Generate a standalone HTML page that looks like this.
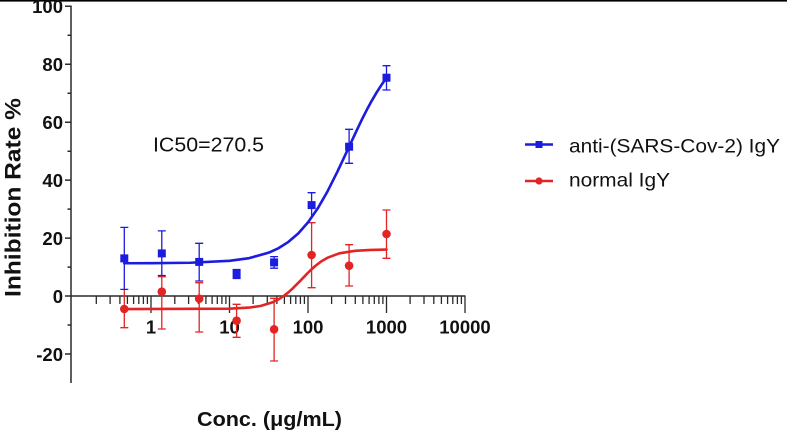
<!DOCTYPE html>
<html><head><meta charset="utf-8"><style>
html,body{margin:0;padding:0;background:#fff;}
svg{display:block;}
text{font-family:"Liberation Sans",Arial,sans-serif;fill:#111;}
</style></head><body>
<svg width="787" height="430" viewBox="0 0 787 430" xmlns="http://www.w3.org/2000/svg">
<rect x="0" y="0" width="787" height="430" fill="#fff"/>
<rect x="0" y="0" width="787" height="1.6" fill="#000"/>
<path fill="none" stroke="#2a2a2a" stroke-width="1.5" d="M71 5.5V383M65 6.3h6M65 64.25h6M65 122.2h6M65 180.15h6M65 238.1h6M65 296.05h6M65 354h6M67.5 35.3h3.5M67.5 93.2h3.5M67.5 151.2h3.5M67.5 209.1h3.5M67.5 267.1h3.5M67.5 325h3.5M71 296.05H465.5"/>
<path fill="none" stroke="#2a2a2a" stroke-width="1.3" d="M151 296v17M229.5 296v17M308 296v17M386.5 296v17M465 296v17M96.3 296v8M110.1 296v8M119.9 296v8M127.4 296v8M133.6 296v8M138.8 296v8M143.4 296v8M147.4 296v8M174.8 296v8M188.6 296v8M198.4 296v8M205.9 296v8M212.1 296v8M217.3 296v8M221.9 296v8M225.9 296v8M253.1 296v8M267.3 296v8M276.9 296v8M284.4 296v8M290.6 296v8M295.8 296v8M300.4 296v8M304.4 296v8M331.6 296v8M345.5 296v8M355.3 296v8M362.9 296v8M369.1 296v8M374.3 296v8M378.9 296v8M382.9 296v8M410.1 296v8M424 296v8M433.8 296v8M441.4 296v8M447.6 296v8M452.8 296v8M457.4 296v8M461.4 296v8"/>
<g font-size="18.5" font-weight="bold" text-anchor="end">
<text x="63" y="13">100</text><text x="63" y="71">80</text><text x="63" y="129">60</text><text x="63" y="187">40</text><text x="63" y="245">20</text><text x="63" y="303">0</text><text x="63" y="361">-20</text>
</g>
<g font-size="18.5" font-weight="bold" text-anchor="middle">
<text x="151" y="333.5">1</text><text x="229.5" y="333.5">10</text><text x="308" y="333.5">100</text><text x="386.5" y="333.5">1000</text><text x="465" y="333.5">10000</text>
</g>
<text transform="translate(20.5,197.5) rotate(-90)" text-anchor="middle" font-size="22.5" font-weight="bold" textLength="199" lengthAdjust="spacingAndGlyphs">Inhibition Rate %</text>
<text x="197" y="426" font-size="20" font-weight="bold" textLength="145" lengthAdjust="spacingAndGlyphs">Conc. (μg/mL)</text>
<text x="153" y="151.7" font-size="20.5" textLength="111" lengthAdjust="spacingAndGlyphs">IC50=270.5</text>
<path fill="none" stroke="#e22424" stroke-width="1.3" d="M124.3 290V327.7M120.3 327.7h8M161.8 276.7V329M157.8 329h8M157.8 276.7h8M199.2 282.7V332M195.2 332h8M195.2 282.7h8M236.6 304.3V337.3M232.6 337.3h8M232.6 304.3h8M274.1 298.3V361M270.1 361h8M270.1 298.3h8M311.6 222.7V287.7M307.6 287.7h8M307.6 222.7h8M349.1 244.7V286M345.1 286h8M345.1 244.7h8M386.5 210V258.3M382.5 258.3h8M382.5 210h8"/>
<polyline fill="none" stroke="#e22424" stroke-width="2.6" stroke-linejoin="round" stroke-linecap="round" points="124.3,309.1 229.5,308.7 249.1,307.6 260.9,305.9 272.7,302.25 278.6,299.3 284.5,295.4 288.4,292.3 292.3,288.8 300.15,280.9 304.1,276.8 308,272.75 311.9,268.96 315.85,265.5 321.7,261.1 327.6,257.7 339.4,253.3 355.1,250.8 370.8,249.9 386.5,249.55"/>
<g fill="#e22424">
<circle cx="124.3" cy="309" r="4.3"/><circle cx="161.8" cy="291.7" r="4.3"/><circle cx="199.2" cy="298.7" r="4.3"/><circle cx="236.6" cy="320.7" r="4.3"/><circle cx="274.1" cy="329.3" r="4.3"/><circle cx="311.6" cy="255" r="4.3"/><circle cx="349.1" cy="265.7" r="4.3"/><circle cx="386.5" cy="234" r="4.3"/>
</g>
<path fill="none" stroke="#1c1ce0" stroke-width="1.3" d="M124.3 227.4V289.4M120.3 227.4h8M120.3 289.4h8M161.8 230.9V275.5M157.8 230.9h8M157.8 275.5h8M199.2 243.3V281M195.2 243.3h8M195.2 281h8M236.6 269.5V278.5M232.6 269.5h8M232.6 278.5h8M274.1 256.6V268.2M270.1 256.6h8M270.1 268.2h8M311.6 192.7V216M307.6 192.7h8M349.1 129.3V163.3M345.1 129.3h8M345.1 163.3h8M386.5 65.7V90M382.5 65.7h8M382.5 90h8"/>
<polyline fill="none" stroke="#1c1ce0" stroke-width="2.6" stroke-linejoin="round" stroke-linecap="round" points="124.3,263.25 151,263.2 190.25,262.76 229.5,260.85 249.1,258.15 268.75,252.67 278.6,248.15 288.4,241.92 298.2,233.5 308,222.37 317.8,208.3 327.6,191.22 337.4,171.7 347.25,150.65 357.1,129.56 362,119.35 366.9,109.65 371.8,100.67 376.7,92.3 381.6,84.7 386.5,77.75"/>
<g fill="#1c1ce0">
<rect x="120.3" y="254.4" width="8" height="8"/><rect x="157.8" y="249.4" width="8" height="8"/><rect x="195.2" y="257.9" width="8" height="8"/><rect x="232.6" y="270" width="8" height="8"/><rect x="270.1" y="258.4" width="8" height="8"/><rect x="307.6" y="201.1" width="8" height="8"/><rect x="345.1" y="142.7" width="8" height="8"/><rect x="382.5" y="73.7" width="8" height="8"/>
</g>
<path stroke="#1c1ce0" stroke-width="2.4" d="M525 144.5h28"/>
<rect x="535.5" y="141" width="7" height="7" fill="#1c1ce0"/>
<path stroke="#e22424" stroke-width="2.4" d="M525 181h28"/>
<circle cx="539" cy="181" r="3.6" fill="#e22424"/>
<text x="569" y="152.7" font-size="19.5" textLength="211" lengthAdjust="spacingAndGlyphs">anti-(SARS-Cov-2) IgY</text>
<text x="569" y="186.7" font-size="19.5" textLength="101" lengthAdjust="spacingAndGlyphs">normal IgY</text>
</svg>
</body></html>
